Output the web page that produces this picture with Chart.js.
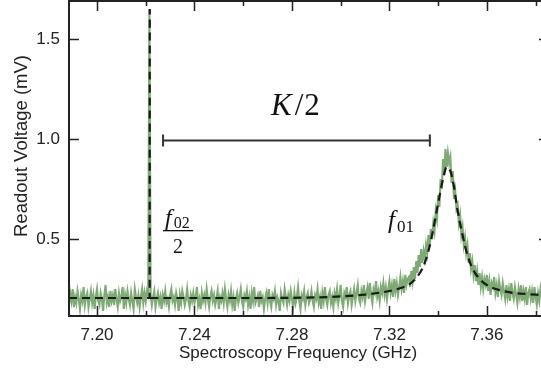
<!DOCTYPE html>
<html>
<head>
<meta charset="utf-8">
<script src="https://cdn.jsdelivr.net/npm/chart.js@4/dist/chart.umd.min.js"></script>
<style>
  html, body { margin: 0; padding: 0; background: #fff; }
  #chart { display: block; }
</style>
</head>
<body>
<canvas id="chart" width="541" height="369"></canvas>
<script>
// measured trace: one sample every 0.5 MHz starting at 7.188 GHz
const freqStart = 7.188;
const freqStep = 0.0005;
const voltage = [
  0.20,0.17,0.23,0.19,0.25,0.16,0.21,0.18,0.24,0.20,0.15,0.22,0.19,0.26,0.17,0.21,0.23,0.16,0.20,0.24,
  0.18,0.22,0.15,0.21,0.25,0.19,0.17,0.23,0.20,0.14,0.22,0.27,0.18,0.21,0.16,0.24,0.19,0.22,0.17,0.25,
  0.20,0.16,0.23,0.19,0.21,0.26,0.15,0.22,0.18,0.24,0.20,0.17,0.23,0.19,0.15,0.25,0.21,0.18,0.22,0.16,
  0.21,0.25,0.18,0.23,0.19,0.24,0.22,1.65,0.22,0.17,0.21,0.24,0.16,0.20,0.23,0.18,0.21,0.15,0.22,0.19,
  0.24,0.18,0.20,0.16,0.22,0.25,0.19,0.21,0.17,0.23,0.20,0.14,0.22,0.18,0.24,0.21,0.17,0.20,0.25,0.19,
  0.16,0.22,0.19,0.23,0.18,0.21,0.26,0.17,0.20,0.15,0.23,0.19,0.22,0.18,0.25,0.20,0.16,0.21,0.24,0.19,
  0.22,0.17,0.20,0.24,0.15,0.21,0.19,0.23,0.18,0.25,0.20,0.16,0.22,0.19,0.24,0.17,0.21,0.14,0.20,0.23,
  0.18,0.21,0.25,0.19,0.16,0.22,0.20,0.24,0.17,0.21,0.15,0.23,0.19,0.26,0.18,0.20,0.22,0.16,0.24,0.19,
  0.21,0.15,0.20,0.23,0.18,0.25,0.19,0.16,0.22,0.20,0.24,0.17,0.21,0.19,0.14,0.23,0.20,0.18,0.25,0.21,
  0.17,0.22,0.19,0.24,0.20,0.16,0.23,0.18,0.21,0.26,0.19,0.15,0.22,0.20,0.24,0.17,0.21,0.23,0.18,0.20,
  0.24,0.19,0.16,0.22,0.20,0.25,0.18,0.21,0.15,0.23,0.19,0.26,0.20,0.17,0.22,0.24,0.18,0.21,0.16,0.23,
  0.20,0.25,0.18,0.22,0.27,0.19,0.16,0.23,0.21,0.26,0.18,0.22,0.24,0.17,0.21,0.25,0.19,0.23,0.27,0.20,
  0.18,0.24,0.21,0.27,0.19,0.23,0.26,0.20,0.28,0.22,0.18,0.25,0.23,0.29,0.21,0.24,0.19,0.26,0.23,0.28,
  0.22,0.26,0.20,0.25,0.29,0.23,0.27,0.21,0.30,0.24,0.28,0.22,0.26,0.31,0.25,0.29,0.23,0.32,0.27,0.30,
  0.31,0.26,0.34,0.29,0.36,0.30,0.39,0.33,0.42,0.36,0.45,0.38,0.44,0.40,0.47,0.43,0.52,0.46,0.55,0.50,
  0.58,0.54,0.64,0.60,0.72,0.66,0.80,0.75,0.90,0.82,0.95,0.86,0.93,0.88,0.91,0.78,0.84,0.70,0.74,0.65,
  0.67,0.58,0.62,0.52,0.56,0.47,0.51,0.43,0.47,0.38,0.43,0.35,0.39,0.32,0.37,0.29,0.34,0.27,0.33,0.26,
  0.31,0.25,0.30,0.27,0.32,0.24,0.29,0.22,0.28,0.26,0.31,0.23,0.27,0.21,0.29,0.25,0.22,0.28,0.24,0.20,
  0.27,0.21,0.25,0.19,0.28,0.23,0.20,0.26,0.22,0.18,0.25,0.21,0.27,0.19,0.24,0.20,0.26,0.17,0.23,0.25,
  0.20,0.24,0.18,0.26,0.21,0.17,0.23,0.19,0.25,0.21
];

// dashed fit curve (null breaks the line after the narrow peak)
const fitFreq = [7.1885, 7.2100, 7.2216, 7.22165, 7.2218, 7.2219, 7.2300, 7.2600, 7.2900, 7.3000, 7.3100, 7.3150, 7.3200,
  7.3250, 7.3280, 7.3310, 7.3340, 7.3360, 7.3380, 7.3400, 7.3420, 7.3435, 7.3450, 7.3465, 7.3480,
  7.3500, 7.3520, 7.3540, 7.3570, 7.3600, 7.3650, 7.3700, 7.3760, 7.3825];
const fitVoltage = [0.205, 0.205, 0.205, 1.65, null, 0.205, 0.205, 0.205, 0.208, 0.213, 0.222, 0.230, 0.240,
  0.256, 0.272, 0.305, 0.365, 0.440, 0.550, 0.680, 0.800, 0.860, 0.840, 0.760, 0.640,
  0.520, 0.420, 0.355, 0.300, 0.270, 0.245, 0.232, 0.225, 0.220];

const xTicks = [7.20, 7.24, 7.28, 7.32, 7.36];
const xMinorTicks = [7.22, 7.26, 7.30, 7.34, 7.38];
const yTicks = [0.5, 1.0, 1.5];

const xLabel = 'Spectroscopy Frequency (GHz)';
const yLabel = 'Readout Voltage (mV)';

const ink = '#222';
const sans = '"Liberation Sans", Arial, Helvetica, sans-serif';
const serif = '"Liberation Serif", "Times New Roman", serif';

const tracePoints = voltage.map((v, i) => ({ x: freqStart + i * freqStep, y: v }));
const fitPoints = fitFreq.map((f, i) => ({ x: f, y: fitVoltage[i] }));

// writes a run of [text, font, dy, kern] pieces one after another from x
function writeRun(ctx, x, y, pieces) {
  pieces.forEach(([t, font, dy, kern]) => {
    ctx.font = font;
    ctx.fillText(t, x + (kern || 0), y + (dy || 0));
    x += ctx.measureText(t).width + (kern || 0);
  });
}

// axes frame, inward ticks, axis titles and the annotations
const decorations = {
  id: 'decorations',
  afterDatasetsDraw(chart) {
    const { ctx, chartArea: a, scales: { x, y } } = chart;
    ctx.save();
    ctx.strokeStyle = ink;
    ctx.lineWidth = 2;
    ctx.beginPath();
    ctx.moveTo(a.left, a.top); ctx.lineTo(a.left, a.bottom);
    ctx.moveTo(a.left - 1, a.bottom); ctx.lineTo(a.right, a.bottom);
    ctx.moveTo(a.left - 1, a.top); ctx.lineTo(a.right, a.top);
    ctx.stroke();

    ctx.lineWidth = 1.5;
    ctx.beginPath();
    xTicks.forEach(v => {
      const px = Math.round(x.getPixelForValue(v)) + 0.5;
      ctx.moveTo(px, a.bottom); ctx.lineTo(px, a.bottom - 10);
      ctx.moveTo(px, a.top); ctx.lineTo(px, a.top + 10);
    });
    xMinorTicks.forEach(v => {
      const px = Math.round(x.getPixelForValue(v)) + 0.5;
      ctx.moveTo(px, a.bottom); ctx.lineTo(px, a.bottom - 5);
      ctx.moveTo(px, a.top); ctx.lineTo(px, a.top + 5);
    });
    yTicks.forEach(v => {
      const py = Math.round(y.getPixelForValue(v)) + 0.5;
      ctx.moveTo(a.left, py); ctx.lineTo(a.left + 10, py);
      ctx.moveTo(a.right, py); ctx.lineTo(a.right - 2, py);
    });
    ctx.stroke();

    // axis titles
    ctx.fillStyle = ink;
    ctx.textAlign = 'center';
    ctx.textBaseline = 'middle';
    ctx.font = '17px ' + sans;
    ctx.fillText(xLabel, 298, 353);
    ctx.save();
    ctx.translate(22, 146);
    ctx.rotate(-Math.PI / 2);
    ctx.font = '18.5px ' + sans;
    ctx.fillText(yLabel, 0, 0);
    ctx.restore();

    // K/2 bracket
    const bx0 = x.getPixelForValue(7.2271), bx1 = x.getPixelForValue(7.3366);
    const by = Math.round(y.getPixelForValue(0.995)) + 0.5;
    ctx.strokeStyle = '#333';
    ctx.lineWidth = 2;
    ctx.beginPath();
    ctx.moveTo(bx0, by); ctx.lineTo(bx1, by);
    ctx.moveTo(bx0, by - 6); ctx.lineTo(bx0, by + 6);
    ctx.moveTo(bx1, by - 6); ctx.lineTo(bx1, by + 6);
    ctx.stroke();

    ctx.fillStyle = '#111';
    ctx.textBaseline = 'alphabetic';
    ctx.textAlign = 'left';
    writeRun(ctx, 271, 115, [
      ['K', 'italic 31px ' + serif],
      ['/', '31px ' + serif, 0, 3],
      ['2', '31px ' + serif, 0, 1]
    ]);

    // f02 over 2
    writeRun(ctx, 165, 225, [
      ['f', 'italic 24px ' + serif],
      ['02', '16px ' + serif, 3, 2]
    ]);
    ctx.fillRect(163, 230, 30, 1.3);
    ctx.font = '20px ' + serif;
    ctx.textAlign = 'center';
    ctx.fillText('2', 178, 253);
    ctx.textAlign = 'left';

    // f01
    writeRun(ctx, 388, 228, [
      ['f', 'italic 25px ' + serif],
      ['01', '17px ' + serif, 4, 2]
    ]);
    ctx.restore();
  }
};

new Chart(document.getElementById('chart'), {
  type: 'line',
  data: {
    datasets: [
      {
        data: fitPoints,
        borderColor: '#1a1a1a',
        borderWidth: 2.2,
        borderDash: [8, 5],
        pointRadius: 0,
        cubicInterpolationMode: 'monotone',
        spanGaps: false,
        order: 0
      },
      {
        data: tracePoints,
        borderColor: '#7faa75',
        borderWidth: 2.1,
        pointRadius: 0,
        tension: 0,
        order: 1
      }
    ]
  },
  options: {
    responsive: false,
    animation: false,
    devicePixelRatio: 1,
    layout: { padding: { top: 1, right: 0, left: 0, bottom: 0 } },
    plugins: { legend: { display: false }, tooltip: { enabled: false } },
    scales: {
      x: {
        type: 'linear',
        min: 7.1885,
        max: 7.3822,
        grid: { display: false, drawTicks: false },
        border: { display: false },
        afterBuildTicks: s => { s.ticks = xTicks.map(v => ({ value: v })); },
        afterFit: s => { s.height = 53; s.paddingLeft = 0; s.paddingRight = 0; },
        ticks: {
          padding: 9,
          color: ink,
          font: { family: sans, size: 17 },
          maxRotation: 0,
          callback: v => v.toFixed(2)
        }
      },
      y: {
        min: 0.115,
        max: 1.69,
        grid: { display: false, drawTicks: false },
        border: { display: false },
        afterBuildTicks: s => { s.ticks = yTicks.map(v => ({ value: v })); },
        afterFit: s => { s.width = 69; s.paddingTop = 0; s.paddingBottom = 0; },
        ticks: {
          padding: 9,
          color: ink,
          font: { family: sans, size: 17 },
          callback: v => v.toFixed(1)
        }
      }
    }
  },
  plugins: [decorations]
});
</script>
</body>
</html>
